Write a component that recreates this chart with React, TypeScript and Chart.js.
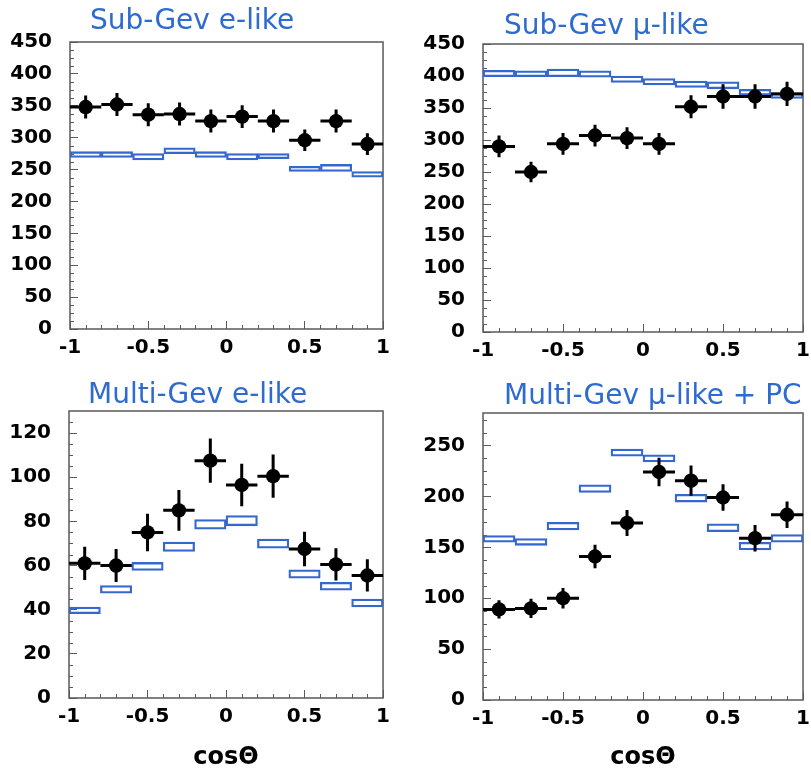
import React, { useEffect, useRef } from "react";
import { Chart, registerables } from "chart.js";

Chart.register(...registerables);

// ---------- data ----------
const binCenters = [-0.9, -0.7, -0.5, -0.3, -0.1, 0.1, 0.3, 0.5, 0.7, 0.9];
const binHalfWidth = 0.1;

// Sub-GeV e-like
const subGevEData = [348, 352, 336, 337, 326, 333, 326, 296, 326, 290];
const subGevEErr = [18, 18, 18, 18, 18, 18, 18, 17, 18, 17];
const subGevEMcLo = [269, 269, 265, 275, 269, 265, 267, 247, 247, 238];
const subGevEMcHi = [278, 278, 275, 284, 278, 275, 275, 255, 258, 247];

// Sub-GeV mu-like
const subGevMuData = [290, 250, 294, 307, 303, 294, 352, 368, 368, 372];
const subGevMuErr = [17, 16, 17, 17, 17, 17, 18, 19, 19, 19];
const subGevMuMcLo = [399, 399, 399, 398, 390, 386, 382, 380, 370, 365];
const subGevMuMcHi = [409, 408, 411, 408, 400, 396, 392, 391, 379, 374];

// Multi-GeV e-like
const multiGevEData = [61, 60, 75, 85, 107.5, 96.5, 100.5, 67.5, 60.5, 55.5];
const multiGevEErr = [7.5, 7.5, 8.5, 9.2, 10, 9.6, 9.8, 7.8, 7.3, 7.3];
const multiGevEMcLo = [38.2, 47.5, 57.8, 66.4, 76.5, 78, 67.9, 54.3, 48.8, 41.2];
const multiGevEMcHi = [41.2, 50.9, 61.4, 70.6, 80.8, 82.6, 72, 58.1, 52.4, 44.8];

// Multi-GeV mu-like + PC
const multiGevMuData = [89, 90, 100, 141, 174, 224, 215.5, 199, 159, 182];
const multiGevMuErr = [9, 9.5, 10, 11.5, 12.8, 14, 14.8, 13, 13, 13];
const multiGevMuMcLo = [155, 152, 167, 204, 239.5, 234, 194.5, 165.5, 147.5, 155];
const multiGevMuMcHi = [161.5, 158.5, 174.5, 211.5, 246.5, 241, 202, 173, 155, 162.5];

const panelTitles = ["Sub-Gev e-like", "Sub-Gev \u03BC-like", "Multi-Gev e-like", "Multi-Gev \u03BC-like + PC"];
const xAxisTitle = "cos\u0398";

// ---------- styles ----------
const BOX_BLUE = "#3568cf";
const TITLE_BLUE = "#2e6bd0";
const FRAME = "#5a5a5a";
const TICK_FONT = { family: "'DejaVu Sans', sans-serif", size: 20, weight: "bold" as const };

type Layout = {
  canvas: { left: number; top: number; width: number; height: number };
  area: { left: number; top: number; right: number; bottom: number };
  titleLeft: number;
  titleCenterY: number;
};

type PanelCfg = {
  title: string;
  layout: Layout;
  yMax: number;
  yStep: number;
  xTitle: boolean;
  data: number[];
  err: number[];
  lo: number[];
  hi: number[];
};

const panels: PanelCfg[] = [
  {
    title: panelTitles[0],
    layout: {
      canvas: { left: 0, top: 0, width: 405, height: 370 },
      area: { left: 70, top: 42, right: 393, bottom: 329 },
      titleLeft: 90,
      titleCenterY: 20,
    },
    yMax: 450, yStep: 50, xTitle: false,
    data: subGevEData, err: subGevEErr, lo: subGevEMcLo, hi: subGevEMcHi,
  },
  {
    title: panelTitles[1],
    layout: {
      canvas: { left: 405, top: 0, width: 420, height: 370 },
      area: { left: 483, top: 44, right: 806, bottom: 332 },
      titleLeft: 504,
      titleCenterY: 25,
    },
    yMax: 450, yStep: 50, xTitle: false,
    data: subGevMuData, err: subGevMuErr, lo: subGevMuMcLo, hi: subGevMuMcHi,
  },
  {
    title: panelTitles[2],
    layout: {
      canvas: { left: 0, top: 370, width: 405, height: 405 },
      area: { left: 69, top: 411, right: 393, bottom: 698 },
      titleLeft: 88,
      titleCenterY: 394,
    },
    yMax: 130, yStep: 20, xTitle: true,
    data: multiGevEData, err: multiGevEErr, lo: multiGevEMcLo, hi: multiGevEMcHi,
  },
  {
    title: panelTitles[3],
    layout: {
      canvas: { left: 405, top: 370, width: 420, height: 405 },
      area: { left: 483, top: 413, right: 806, bottom: 700 },
      titleLeft: 504,
      titleCenterY: 395,
    },
    yMax: 282, yStep: 50, xTitle: true,
    data: multiGevMuData, err: multiGevMuErr, lo: multiGevMuMcLo, hi: multiGevMuMcHi,
  },
];

// ---------- plugins ----------
const framePlugin = {
  id: "frame",
  beforeDatasetsDraw(chart: any) {
    const { ctx, chartArea, scales } = chart;
    const { left, top, right, bottom } = chartArea;
    const yStep = chart.options.scales.y.ticks.stepSize;
    const yMax = chart.options.scales.y.max;
    ctx.save();
    ctx.strokeStyle = FRAME;
    ctx.lineWidth = 1;
    // minor x ticks every 0.1
    for (let k = -9; k <= 9; k++) {
      if (k % 5 === 0) continue;
      const px = Math.round(scales.x.getPixelForValue(k / 10)) + 0.5;
      ctx.beginPath();
      ctx.moveTo(px, bottom);
      ctx.lineTo(px, bottom - 4);
      ctx.stroke();
    }
    // minor y ticks (quarter steps)
    for (let v = yStep / 4; v < yMax; v += yStep / 4) {
      if (Math.abs(v / yStep - Math.round(v / yStep)) < 1e-6) continue;
      const py = Math.round(scales.y.getPixelForValue(v)) + 0.5;
      ctx.beginPath();
      ctx.moveTo(left, py);
      ctx.lineTo(left + 4, py);
      ctx.stroke();
    }
    ctx.lineWidth = 1.5;
    ctx.strokeRect(left, top, right - left, bottom - top);
    ctx.restore();
  },
};

const errorBarPlugin = {
  id: "errorBars",
  afterDatasetsDraw(chart: any) {
    const { ctx, scales } = chart;
    const ds = chart.data.datasets[0];
    const errs: number[] = ds.errors || [];
    ctx.save();
    ctx.strokeStyle = "#000";
    ctx.lineWidth = 3;
    ds.data.forEach((p: { x: number; y: number }, i: number) => {
      const cx = scales.x.getPixelForValue(p.x);
      const cy = scales.y.getPixelForValue(p.y);
      const x0 = scales.x.getPixelForValue(p.x - binHalfWidth);
      const x1 = scales.x.getPixelForValue(p.x + binHalfWidth);
      const y0 = scales.y.getPixelForValue(p.y - errs[i]);
      const y1 = scales.y.getPixelForValue(p.y + errs[i]);
      ctx.beginPath();
      ctx.moveTo(x0, cy);
      ctx.lineTo(x1, cy);
      ctx.moveTo(cx, y0);
      ctx.lineTo(cx, y1);
      ctx.stroke();
    });
    ctx.restore();
  },
};

function fmtX(v: number | string) {
  const n = Number(v);
  if (Math.abs(n) < 1e-9) return "0";
  return String(Math.round(n * 10) / 10);
}

function Panel({ cfg }: { cfg: PanelCfg }) {
  const ref = useRef<HTMLCanvasElement>(null);
  const { canvas: c, area: a } = cfg.layout;

  useEffect(() => {
    if (!ref.current) return;
    const chart = new Chart(ref.current, {
      type: "bar",
      data: {
        datasets: [
          {
            type: "scatter",
            data: binCenters.map((x, i) => ({ x, y: cfg.data[i] })),
            errors: cfg.err,
            backgroundColor: "#000",
            borderColor: "#000",
            pointRadius: 7.2,
            pointHoverRadius: 7.2,
            borderWidth: 0,
            order: 0,
          } as any,
          {
            type: "bar",
            data: binCenters.map((x, i) => ({ x, y: [cfg.lo[i], cfg.hi[i]] })),
            backgroundColor: "rgba(255,255,255,0)",
            borderColor: BOX_BLUE,
            borderWidth: 1.6,
            borderSkipped: false,
            barPercentage: 1,
            categoryPercentage: 1,
            order: 1,
          } as any,
        ],
      },
      options: {
        responsive: false,
        maintainAspectRatio: false,
        animation: false,
        events: [],
        layout: {
          padding: {
            left: 0,
            top: a.top - c.top,
            right: c.left + c.width - a.right,
            bottom: 0,
          },
        },
        plugins: {
          legend: { display: false },
          tooltip: { enabled: false },
          title: { display: false },
        },
        scales: {
          x: {
            type: "linear",
            min: -1,
            max: 1,
            offset: false,
            afterFit: (s: any) => {
              s.height = c.top + c.height - a.bottom;
            },
            ticks: {
              stepSize: 0.5,
              autoSkip: false,
              maxRotation: 0,
              padding: 15,
              color: "#000",
              font: TICK_FONT,
              callback: (v: any) => fmtX(v),
            },
            grid: {
              offset: false,
              drawOnChartArea: false,
              drawTicks: true,
              tickLength: -8,
              color: FRAME,
            },
            border: { display: false },
            title: {
              display: cfg.xTitle,
              text: xAxisTitle,
              color: "#000",
              font: { family: "'DejaVu Sans', sans-serif", size: 24, weight: "bold" },
              padding: { top: 0, bottom: 3 },
            },
          },
          y: {
            type: "linear",
            min: 0,
            max: cfg.yMax,
            afterFit: (s: any) => {
              s.width = a.left - c.left;
            },
            ticks: {
              stepSize: cfg.yStep,
              includeBounds: false,
              padding: 26,
              color: "#000",
              font: TICK_FONT,
            },
            grid: {
              drawOnChartArea: false,
              drawTicks: true,
              tickLength: -8,
              color: FRAME,
            },
            border: { display: false },
          },
        },
      } as any,
      plugins: [framePlugin, errorBarPlugin],
    });
    return () => chart.destroy();
  }, [cfg]);

  return (
    <>
      <canvas
        ref={ref}
        width={c.width}
        height={c.height}
        style={{ position: "absolute", left: c.left, top: c.top, width: c.width, height: c.height }}
      />
      <div
        style={{
          position: "absolute",
          left: cfg.layout.titleLeft,
          top: cfg.layout.titleCenterY - 16,
          height: 32,
          lineHeight: "32px",
          fontFamily: "'DejaVu Sans', sans-serif",
          fontSize: 28,
          color: TITLE_BLUE,
          whiteSpace: "nowrap",
        }}
      >
        {cfg.title}
      </div>
    </>
  );
}

export default function App() {
  return (
    <div
      style={{
        position: "absolute",
        left: 0,
        top: 0,
        width: 811,
        height: 775,
        overflow: "hidden",
        background: "#fff",
      }}
    >
      {panels.map((p, i) => (
        <Panel key={i} cfg={p} />
      ))}
    </div>
  );
}
